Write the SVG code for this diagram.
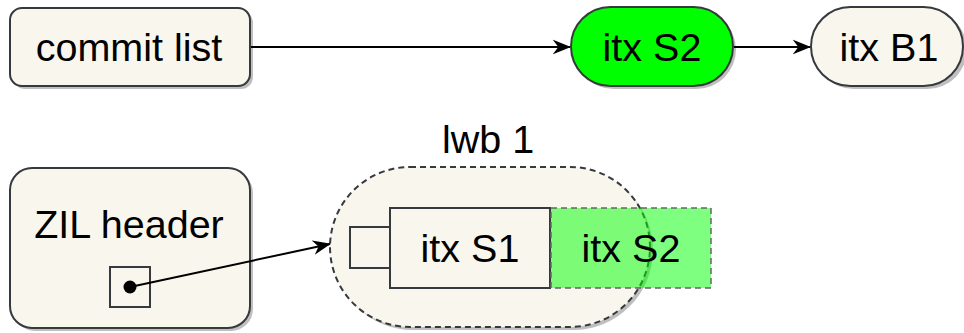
<svg xmlns="http://www.w3.org/2000/svg" width="964" height="333" viewBox="0 0 964 333">
<defs>
<marker id="arrL" viewBox="0 0 10 10" refX="9.5" refY="5" markerWidth="18" markerHeight="16" markerUnits="userSpaceOnUse" orient="auto" preserveAspectRatio="none">
<path d="M0,0.5 L10,5 L0,9.5 L3,5 Z" fill="#000"/>
</marker>
</defs>
<style>
.box{fill:#f9f7ed;stroke:#36393d;stroke-width:2}
.sh{fill:#000;fill-opacity:0.25;stroke:none}
.t{font-family:"Liberation Sans",Arial,sans-serif;font-size:39.5px;fill:#000;text-anchor:middle}
.edge{fill:none;stroke:#000;stroke-width:2}
</style>
<rect width="964" height="333" fill="#fff"/>

<g id="commit-list">
<rect class="sh" x="13" y="11" width="240" height="78" rx="12"/>
<rect class="box" x="10" y="8" width="240" height="78" rx="12"/>
<text class="t" x="129" y="61">commit list</text>
</g>

<g id="itx-s2-top">
<rect class="sh" x="574" y="10" width="162" height="79" rx="39.5"/>
<rect x="571" y="7" width="162" height="79" rx="39.5" fill="#00ff00" stroke="#36393d" stroke-width="2"/>
<text class="t" x="652" y="61">itx S2</text>
</g>

<g id="itx-b1">
<rect class="sh" x="814" y="10" width="153" height="79" rx="39.5"/>
<rect class="box" x="811" y="7" width="152" height="79" rx="39.5"/>
<text class="t" x="889" y="61">itx B1</text>
</g>

<g id="zil-header">
<rect class="sh" x="13" y="171" width="240" height="160" rx="22"/>
<rect class="box" x="10" y="168" width="240" height="160" rx="22"/>
<text class="t" x="129" y="238">ZIL header</text>
<rect x="110" y="267" width="40" height="40" fill="#f9f7ed" stroke="#36393d" stroke-width="2"/>
<circle cx="130" cy="287" r="6.5" fill="#000"/>
</g>

<g id="lwb-1">
<text class="t" x="488" y="153">lwb 1</text>
<rect class="sh" x="333" y="170" width="320" height="160" rx="80"/>
<rect x="330" y="167" width="320" height="160" rx="80" fill="#f9f7ed" stroke="#36393d" stroke-width="2" stroke-dasharray="6 4"/>
</g>

<g id="lwb-ptr">
<rect x="350" y="227" width="40" height="41" fill="#f9f7ed" stroke="#36393d" stroke-width="2"/>
</g>

<g id="itx-s1">
<rect x="390" y="208" width="160" height="80" fill="#f9f7ed" stroke="#36393d" stroke-width="2"/>
<text class="t" x="470" y="262">itx S1</text>
</g>

<g id="itx-s2-lwb">
<rect x="551" y="208" width="160" height="80" fill="#00ff00" fill-opacity="0.5" stroke="#666" stroke-width="1.5" stroke-dasharray="6 4"/>
<text class="t" x="631" y="262">itx S2</text>
</g>

<g id="connectors">
<line class="edge" x1="251" y1="47" x2="570" y2="47" marker-end="url(#arrL)"/>
<line class="edge" x1="734" y1="47" x2="810" y2="47" marker-end="url(#arrL)"/>
<line class="edge" x1="130" y1="287" x2="330" y2="244" marker-end="url(#arrL)"/>
</g>
</svg>
